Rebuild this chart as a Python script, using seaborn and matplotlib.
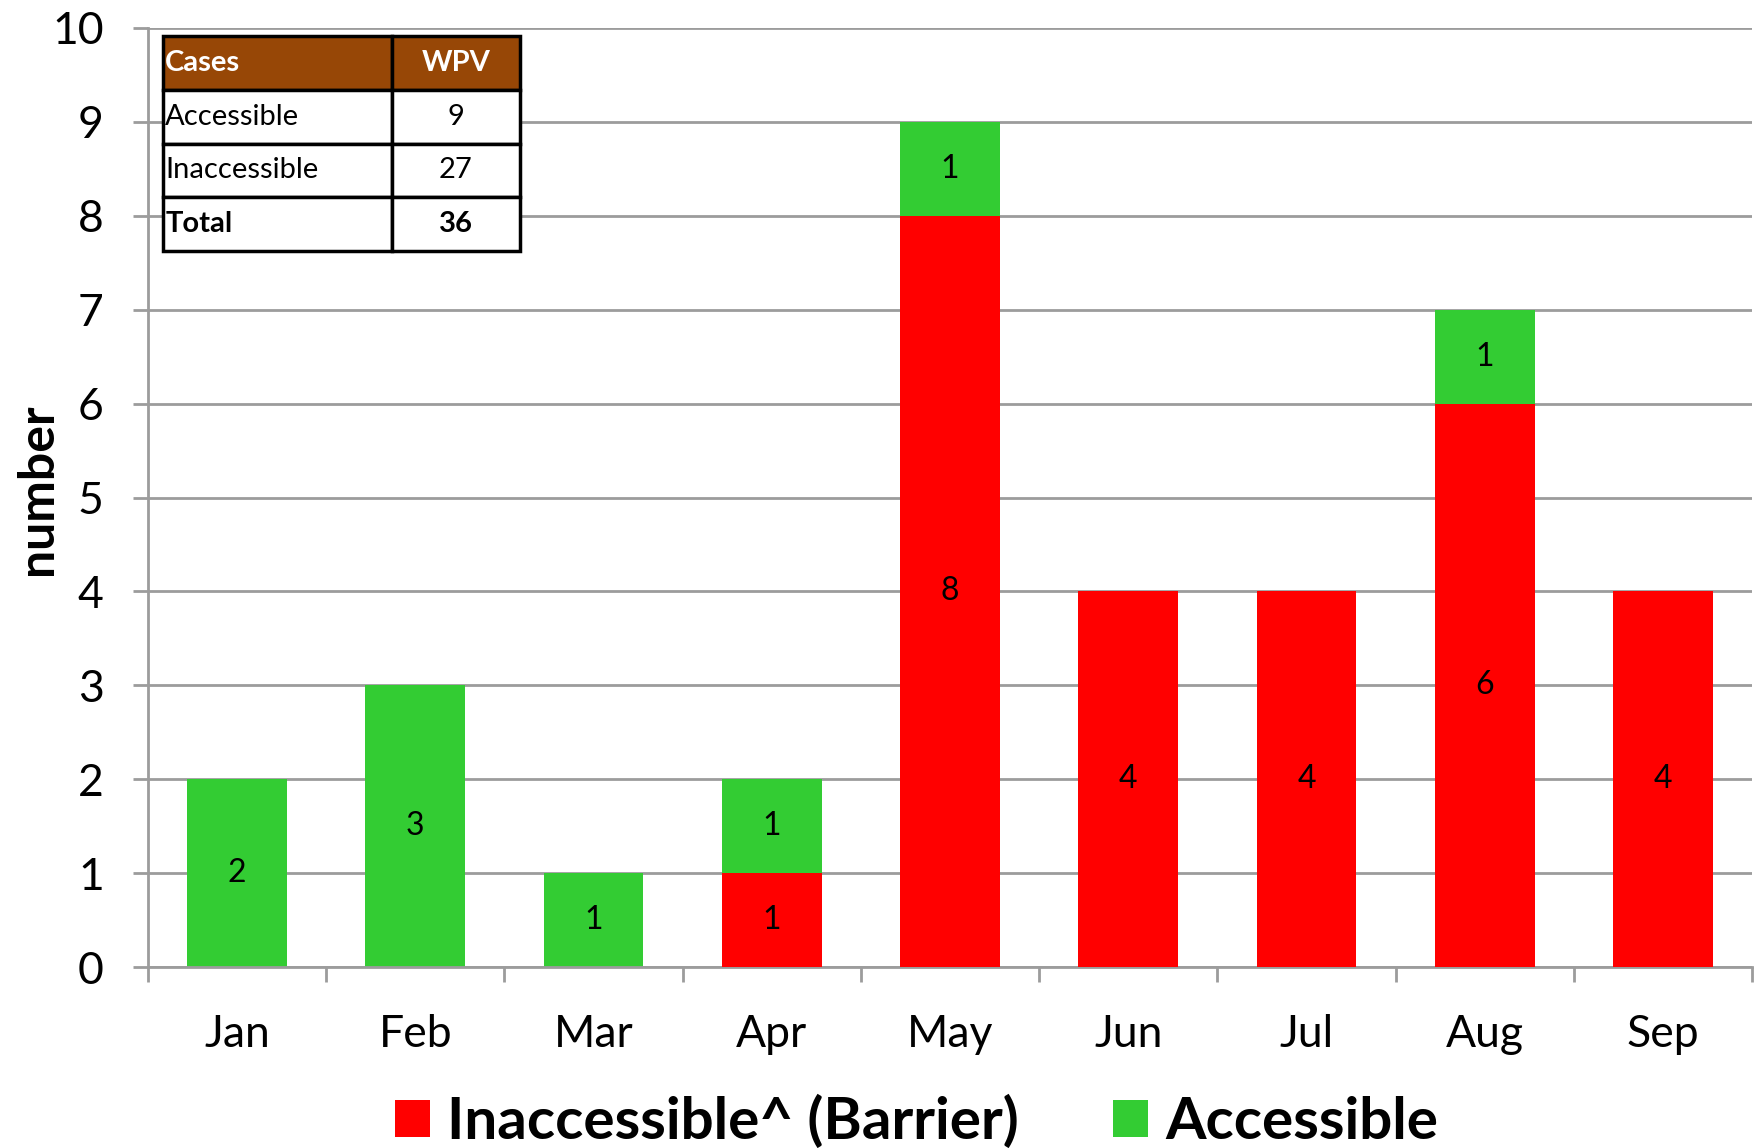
import matplotlib
matplotlib.use("Agg")
import matplotlib.pyplot as plt
import seaborn as sns
import pandas as pd
import numpy as np
from matplotlib.patches import Patch

months = ["Jan", "Feb", "Mar", "Apr", "May", "Jun", "Jul", "Aug", "Sep"]
inaccessible = [0, 0, 0, 1, 8, 4, 4, 6, 4]
accessible = [2, 3, 1, 1, 1, 0, 0, 1, 0]

table_header = ["Cases", "WPV"]
table_rows = ["Accessible", "Inaccessible", "Total"]
table_vals = ["9", "27", "36"]

RED = "#FF0000"
GREEN = "#33CC33"
GRID = "#9c9c9c"
BROWN = "#974706"

sns.set_theme(style="white")
plt.rcParams["font.family"] = ["Lato", "DejaVu Sans"]
plt.rcParams["text.color"] = "black"
plt.rcParams["axes.labelcolor"] = "black"

df = pd.DataFrame({"month": months, "inacc": inaccessible, "acc": accessible})
df["total"] = df["inacc"] + df["acc"]

fig = plt.figure(figsize=(17.58, 11.48), dpi=100)
ax = fig.add_axes([148 / 1758, 1 - 967 / 1148, (1752 - 148) / 1758, (967 - 28) / 1148])

sns.barplot(data=df, x="month", y="total", color=GREEN, width=0.56, saturation=1,
            linewidth=0, ax=ax, zorder=2)
sns.barplot(data=df, x="month", y="inacc", color=RED, width=0.56, saturation=1,
            linewidth=0, ax=ax, zorder=3)

# segment labels
for i, (r, g) in enumerate(zip(inaccessible, accessible)):
    if r > 0:
        ax.text(i, r / 2, str(r), ha="center", va="center", fontsize=23, color="black", zorder=5)
    if g > 0:
        ax.text(i, r + g / 2, str(g), ha="center", va="center", fontsize=23, color="black", zorder=5)

ax.set_xlim(-0.5, len(months) - 0.5)
ax.set_ylim(0, 10)
ax.set_yticks(range(0, 11))
ax.set_axisbelow(True)
ax.yaxis.grid(True, color=GRID, linewidth=2)
ax.xaxis.grid(False)
for s in ["top", "right"]:
    ax.spines[s].set_visible(False)
for s in ["left", "bottom"]:
    ax.spines[s].set_color(GRID)
    ax.spines[s].set_linewidth(2)

ax.tick_params(axis="y", which="major", left=True, length=10.8, width=2, color=GRID,
               pad=21, labelsize=32, labelcolor="black")
ax.set_xticks(np.arange(-0.5, len(months), 1.0), minor=True)
ax.tick_params(axis="x", which="minor", bottom=True, length=10.8, width=2, color=GRID)
ax.tick_params(axis="x", which="major", bottom=False, length=0, pad=34, labelsize=32,
               labelcolor="black")
ax.set_xlabel("")
ax.set_ylabel("number", fontsize=36, fontweight="bold", color="black")
ax.yaxis.label.set_va("center")
ax.yaxis.set_label_coords((38 - 148) / 1604, 0.509)

# summary table
cell_text = [[table_header[0], table_header[1]]] + [[r, v] for r, v in zip(table_rows, table_vals)]
tbl = ax.table(cellText=cell_text, colWidths=[0.641, 0.359], cellLoc="center",
               bbox=[15 / 1604, (967 - 251) / 939, 357 / 1604, 215 / 939], zorder=10)
tbl.auto_set_font_size(False)
for (r, c), cell in tbl.get_celld().items():
    cell.set_linewidth(2.5)
    cell.set_edgecolor("black")
    cell.set_text_props(fontsize=21, color="black")
    if c == 0:
        cell.PAD = 0.01
        cell._loc = "left"
        cell.get_text().set_ha("left")
    if r == 0:
        cell.set_facecolor(BROWN)
        cell.get_text().set_color("white")
        cell.get_text().set_fontweight("bold")
    else:
        cell.set_facecolor("white")
    if r == 3:
        cell.get_text().set_fontweight("bold")

handles = [Patch(facecolor=RED, edgecolor="none", label="Inaccessible^ (Barrier)"),
           Patch(facecolor=GREEN, edgecolor="none", label="Accessible")]
fig.legend(handles=handles, loc="center left", bbox_to_anchor=(395 / 1758, 1 - 1122 / 1148),
           ncol=2, frameon=False, prop={"size": 42, "weight": "bold"}, labelcolor="black",
           handlelength=0.6, handleheight=0.6, handletextpad=0.3, columnspacing=1.6,
           borderpad=0, borderaxespad=0)

fig.savefig("out.png", dpi=100)
